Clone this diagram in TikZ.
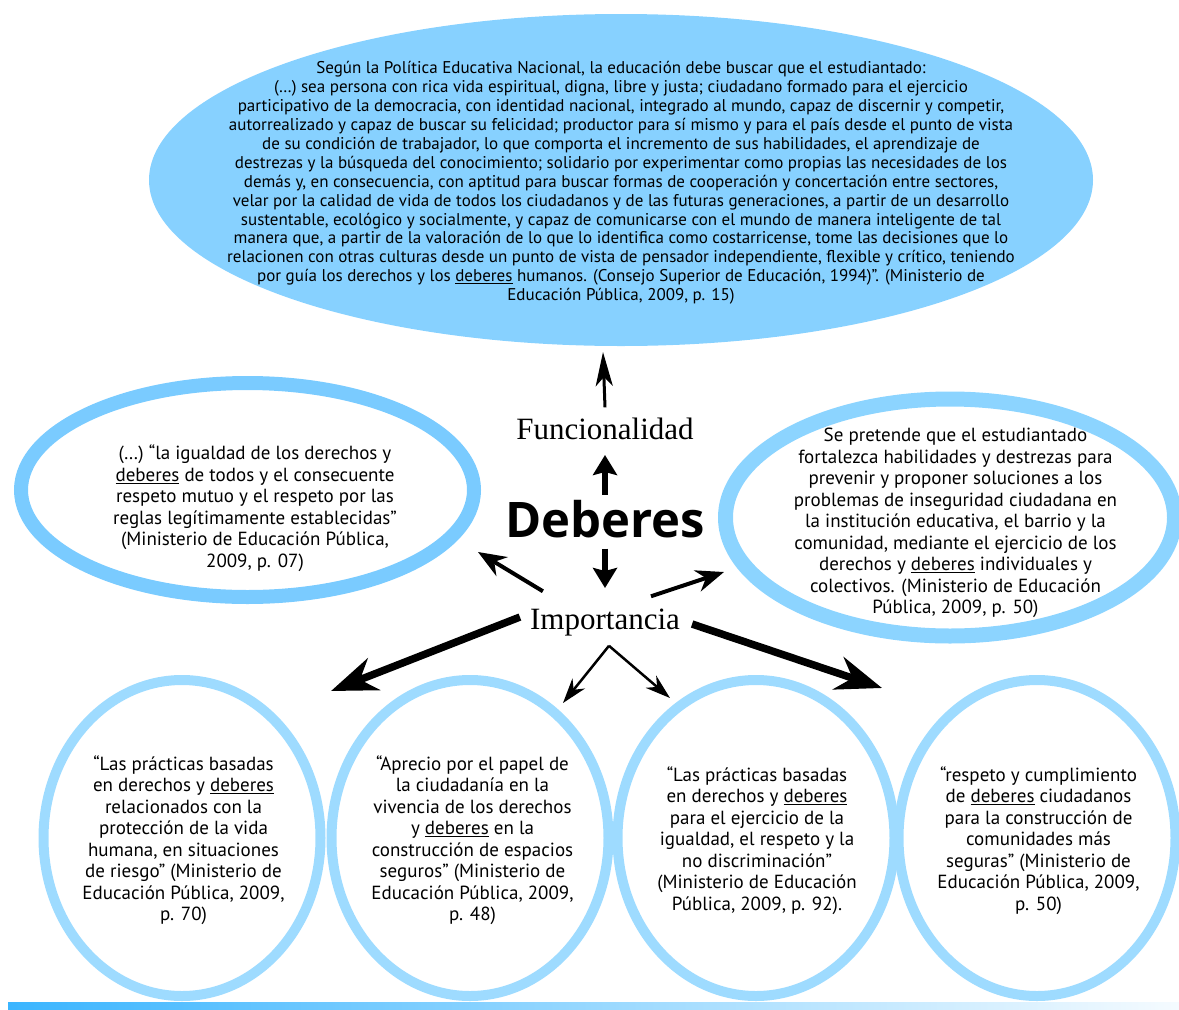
\documentclass[tikz,border=0pt]{standalone}
\usepackage{fontspec}
\setmainfont{PT Sans}
\newfontfamily\serifF{Liberation Serif}
\newfontfamily\titleF{Open Sans}
\usetikzlibrary{shapes.geometric,arrows.meta}
\definecolor{topfill}{HTML}{87D1FF}
\definecolor{ringL}{HTML}{7ACBFF}
\definecolor{ringR}{HTML}{8CD4FF}
\definecolor{ringB}{HTML}{9EDBFF}
\definecolor{barL}{HTML}{3BB5FF}
\definecolor{barR}{HTML}{F5FBFF}
\newcommand\ulw[1]{\setbox0\hbox{#1}\rlap{\rule[-2.6pt]{\wd0}{1.1pt}}\box0\relax}
\tikzset{
  toptxt/.style={font=\fontsize{17}{18.9}\selectfont, align=center, inner sep=0pt, text=black},
  bodytxt/.style={font=\fontsize{19}{21.5}\selectfont, align=center, inner sep=0pt, text=black},
  hdtxt/.style={font=\serifF\fontsize{31}{34}\selectfont, inner sep=0pt, anchor=base},
  ringl/.style={ellipse, draw=ringL, line width=14pt, inner sep=0pt},
  ringr/.style={ellipse, draw=ringR, line width=15pt, inner sep=0pt},
  ringb/.style={ellipse, draw=ringB, line width=10pt, inner sep=0pt, minimum width=277pt, minimum height=316pt},
  thinar/.style={line width=3pt, -{Stealth[length=34pt,width=17pt,inset=9pt]}},
  boldar/.style={line width=6pt, -{Stealth[length=20pt,width=24pt,inset=3pt]}},
  medar/.style={line width=4pt, -{Stealth[length=28pt,width=22pt,inset=9pt]}},
  bigar/.style={line width=7.5pt, -{Stealth[length=46pt,width=34pt,inset=15pt]}},
  smallar/.style={line width=2.5pt, -{Stealth[length=25pt,width=16pt,inset=8pt]}},
}
\begin{document}
\begin{tikzpicture}[x=1pt,y=-1pt]
\useasboundingbox (0,0) rectangle (1179,1010);

% shapes
\node[ellipse, fill=topfill, minimum width=944pt, minimum height=332pt, inner sep=0pt] (topE) at (621,180) {};
\node[ringl, minimum width=453pt, minimum height=214pt] (leftE) at (247.5,490) {};
\node[ringr, minimum width=449pt, minimum height=237pt] (rightE) at (950,517.5) {};
\node[ringb] (c1) at (182,838) {};
\node[ringb] (c2) at (470,838) {};
\node[ringb] (c3) at (756,838) {};
\node[ringb] (c4) at (1037,838) {};

% bottom bar
\shade[left color=barL, right color=barR] (8,1002) rectangle (1179,1010);

% texts
\node[toptxt] (ttop) at (621,183) {Según la Política Educativa Nacional, la educación debe buscar que el estudiantado:\\
(…) sea persona con rica vida espiritual, digna, libre y justa; ciudadano formado para el ejercicio\\
participativo de la democracia, con identidad nacional, integrado al mundo, capaz de discernir y competir,\\
autorrealizado y capaz de buscar su felicidad; productor para sí mismo y para el país desde el punto de vista\\
de su condición de trabajador, lo que comporta el incremento de sus habilidades, el aprendizaje de\\
destrezas y la búsqueda del conocimiento; solidario por experimentar como propias las necesidades de los\\
demás y, en consecuencia, con aptitud para buscar formas de cooperación y concertación entre sectores,\\
velar por la calidad de vida de todos los ciudadanos y de las futuras generaciones, a partir de un desarrollo\\
sustentable, ecológico y socialmente, y capaz de comunicarse con el mundo de manera inteligente de tal\\
manera que, a partir de la valoración de lo que lo identifica como costarricense, tome las decisiones que lo\\
relacionen con otras culturas desde un punto de vista de pensador independiente, flexible y crítico, teniendo\\
por guía los derechos y los \ulw{deberes} humanos. (Consejo Superior de Educación, 1994)”. (Ministerio de\\
Educación Pública, 2009, p. 15)};

\node[bodytxt] (tleft) at (255,508) {(…) “la igualdad de los derechos y\\
\ulw{deberes} de todos y el consecuente\\
respeto mutuo y el respeto por las\\
reglas legítimamente establecidas”\\
(Ministerio de Educación Pública,\\
2009, p. 07)};

\node[bodytxt] (tright) at (955.5,523) {Se pretende que el estudiantado\\
fortalezca habilidades y destrezas para\\
prevenir y proponer soluciones a los\\
problemas de inseguridad ciudadana en\\
la institución educativa, el barrio y la\\
comunidad, mediante el ejercicio de los\\
derechos y \ulw{deberes} individuales y\\
colectivos. (Ministerio de Educación\\
Pública, 2009, p. 50)};

\node[bodytxt] (t1) at (183.5,840) {“Las prácticas basadas\\
en derechos y \ulw{deberes}\\
relacionados con la\\
protección de la vida\\
humana, en situaciones\\
de riesgo” (Ministerio de\\
Educación Pública, 2009,\\
p. 70)};

\node[bodytxt] (t2) at (472.5,840) {“Aprecio por el papel de\\
la ciudadanía en la\\
vivencia de los derechos\\
y \ulw{deberes} en la\\
construcción de espacios\\
seguros” (Ministerio de\\
Educación Pública, 2009,\\
p. 48)};

\node[bodytxt] (t3) at (757,840.5) {“Las prácticas basadas\\
en derechos y \ulw{deberes}\\
para el ejercicio de la\\
igualdad, el respeto y la\\
no discriminación”\\
(Ministerio de Educación\\
Pública, 2009, p. 92).};

\node[bodytxt] (t4) at (1038.5,840.5) {“respeto y cumplimiento\\
de \ulw{deberes} ciudadanos\\
para la construcción de\\
comunidades más\\
seguras” (Ministerio de\\
Educación Pública, 2009,\\
p. 50)};

% central labels
\node[hdtxt] (fun) at (605,439) {Funcionalidad};
\node[font=\titleF\bfseries\fontsize{49}{54}\selectfont, inner sep=0pt, anchor=base] (deb) at (605,537) {Deberes};
\node[hdtxt] (imp) at (605,629) {Importancia};

% arrow tips
\coordinate (tipTop) at (603,352);
\coordinate (tipFun) at (605,455);
\coordinate (tipImp) at (605,588);
\coordinate (tipL) at (478,552);
\coordinate (tipR) at (724,572);
\coordinate (tipC1) at (331,691);
\coordinate (tipC4) at (882,688);
\coordinate (tipC2) at (563,703);
\coordinate (tipC3) at (670,698);
\coordinate (peak) at ([xshift=4pt,yshift=-10pt]imp.south);

% connectors
\draw[thinar] ([yshift=10pt]fun.north) -- (tipTop);
\draw[boldar] ([yshift=5pt]deb.north) -- (tipFun);
\draw[boldar] ([yshift=-11pt]deb.south) -- (tipImp);
\draw[medar] ([xshift=13pt,yshift=17pt]imp.north west) -- (tipL);
\draw[medar] ([xshift=46pt,yshift=12pt]imp.north) -- (tipR);
\draw[bigar] ([xshift=-10pt,yshift=5pt]imp.west) -- (tipC1);
\draw[bigar] ([xshift=12pt,yshift=-2pt]imp.east) -- (tipC4);
\draw[smallar] (peak) -- (tipC2);
\draw[smallar] (peak) -- (tipC3);
\end{tikzpicture}
\end{document}
